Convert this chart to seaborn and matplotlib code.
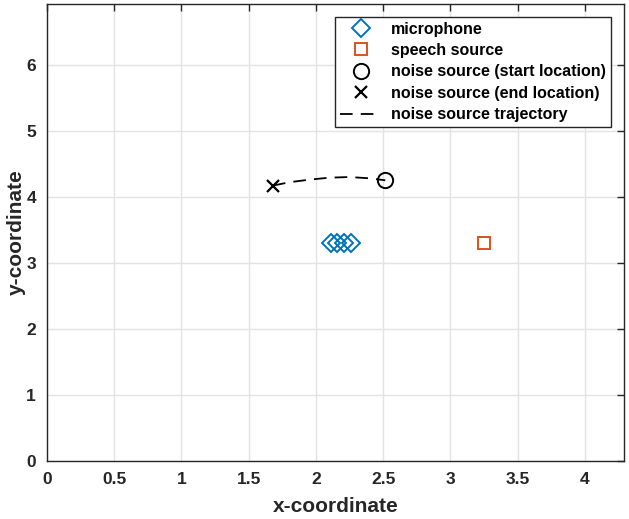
import numpy as np
import pandas as pd
import matplotlib
matplotlib.use("Agg")
import matplotlib.pyplot as plt
import seaborn as sns


# =========================
# Data
# =========================

mic_x = [2.11, 2.16, 2.21, 2.26]
mic_y = [3.30, 3.30, 3.30, 3.30]

speech_x = [3.25]
speech_y = [3.30]

noise_start_x = [2.515]
noise_start_y = [4.25]

noise_end_x = [1.68]
noise_end_y = [4.17]

traj_x = [1.68, 1.80, 1.95, 2.10, 2.25, 2.40, 2.515]
traj_y = [4.17, 4.22, 4.26, 4.29, 4.30, 4.28, 4.25]

x_ticks = [0, 0.5, 1, 1.5, 2, 2.5, 3, 3.5, 4]
y_ticks = [0, 1, 2, 3, 4, 5, 6]


# =========================
# Style
# =========================

sns.set_style("whitegrid")

plt.rcParams["font.family"] = ["Liberation Sans", "DejaVu Sans"]
plt.rcParams["font.weight"] = "bold"


# =========================
# Plot
# =========================

fig = plt.figure(figsize=(6.29, 5.19), dpi=100)

ax = fig.add_axes([0.0747, 0.1118, 0.9173, 0.8805])

traj = pd.DataFrame({"x": traj_x, "y": traj_y})

sns.lineplot(
    data=traj,
    x="x",
    y="y",
    ax=ax,
    color="black",
    linestyle=(0, (7, 4.5)),
    linewidth=1.3,
    sort=False,
    label="noise source trajectory",
    zorder=3
)

ax.plot(
    mic_x,
    mic_y,
    linestyle="none",
    marker="D",
    markersize=9,
    markerfacecolor="none",
    markeredgecolor="#0072BD",
    markeredgewidth=1.4,
    label="microphone",
    zorder=4
)

ax.plot(
    speech_x,
    speech_y,
    linestyle="none",
    marker="s",
    markersize=9,
    markerfacecolor="none",
    markeredgecolor="#D95319",
    markeredgewidth=1.4,
    label="speech source",
    zorder=4
)

ax.plot(
    noise_start_x,
    noise_start_y,
    linestyle="none",
    marker="o",
    markersize=11,
    markerfacecolor="none",
    markeredgecolor="black",
    markeredgewidth=1.4,
    label="noise source (start location)",
    zorder=4
)

ax.plot(
    noise_end_x,
    noise_end_y,
    linestyle="none",
    marker="x",
    markersize=9,
    markeredgecolor="black",
    markeredgewidth=1.6,
    label="noise source (end location)",
    zorder=4
)


ax.set_xlim(0, 4.29)
ax.set_ylim(0, 6.92)

ax.set_xticks(x_ticks)
ax.set_xticklabels(["0", "0.5", "1", "1.5", "2", "2.5", "3", "3.5", "4"])
ax.set_yticks(y_ticks)

ax.set_xlabel("x-coordinate", fontsize=15, fontweight="bold", labelpad=7)
ax.set_ylabel("y-coordinate", fontsize=15, fontweight="bold", labelpad=0)

ax.tick_params(
    axis="both",
    direction="in",
    length=5,
    width=1,
    labelsize=12.5,
    top=True,
    right=True,
    color="#262626",
    labelcolor="#262626",
    pad=8
)

for label in ax.get_xticklabels() + ax.get_yticklabels():
    label.set_fontweight("bold")

ax.grid(True, color="#e3e3e3", linewidth=1)

for spine in ax.spines.values():
    spine.set_color("#262626")
    spine.set_linewidth(1)


# legend order: markers then trajectory
handles, labels = ax.get_legend_handles_labels()
order = [1, 2, 3, 4, 0]

leg = ax.legend(
    [handles[i] for i in order],
    [labels[i] for i in order],
    loc="upper right",
    bbox_to_anchor=(0.977, 0.972),
    fontsize=11.5,
    frameon=True,
    fancybox=False,
    edgecolor="#262626",
    framealpha=1,
    handlelength=2.6,
    handletextpad=0.6,
    borderpad=0.3,
    labelspacing=0.4,
    borderaxespad=0
)

leg.get_frame().set_linewidth(1)

for text in leg.get_texts():
    text.set_fontweight("bold")
    text.set_color("black")


plt.savefig("out.png", dpi=100)
